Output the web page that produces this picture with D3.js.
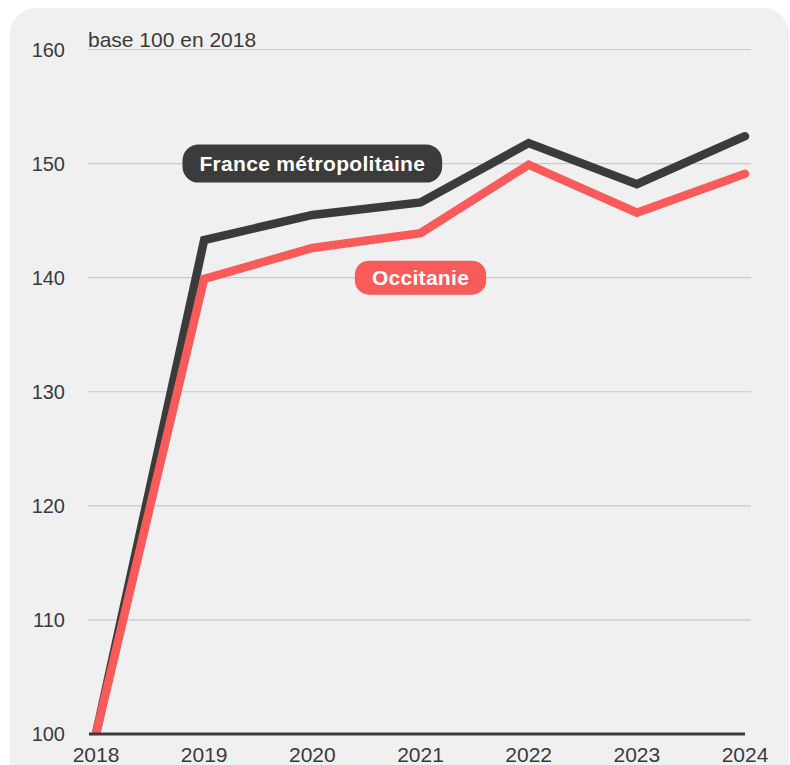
<!DOCTYPE html>
<html><head><meta charset="utf-8">
<script src="https://cdn.jsdelivr.net/npm/d3@7"></script>
<style>body{margin:0;background:#fff}svg{display:block}text{font-family:"Liberation Sans",Arial,sans-serif}</style>
</head><body>
<svg id="c" width="790" height="765"></svg>
<script>
const years = [2018, 2019, 2020, 2021, 2022, 2023, 2024];
const france = [100, 143.3, 145.5, 146.6, 151.8, 148.2, 152.4];
const occitanie = [100, 139.9, 142.6, 143.9, 149.9, 145.7, 149.1];
const yTicks = [100, 110, 120, 130, 140, 150, 160];
const seriesNames = ["France métropolitaine", "Occitanie"];
const subtitle = "base 100 en 2018";

const svg = d3.select("#c");
svg.append("rect").attr("x", 10).attr("y", 8).attr("width", 779).attr("height", 800)
  .attr("rx", 26).attr("fill", "#f0f0f0");

const x = d3.scalePoint().domain(years).range([96, 745]);
const y = d3.scaleLinear().domain([100, 160]).range([734, 49.5]);

// gridlines
const grid = svg.append("g");
grid.selectAll("line").data(yTicks.filter(t => t > 100)).join("line")
  .attr("x1", 88).attr("x2", 751)
  .attr("y1", d => y(d)).attr("y2", d => y(d))
  .attr("stroke", "#c9c9c9").attr("stroke-width", 1.2);

// y labels
svg.append("g").selectAll("text").data(yTicks).join("text")
  .attr("x", 65).attr("y", d => y(d)).attr("dy", "0.36em")
  .attr("text-anchor", "end").attr("font-size", 20).attr("fill", "#3a3a3a")
  .text(d => d);

// x labels
svg.append("g").selectAll("text").data(years).join("text")
  .attr("x", d => x(d)).attr("y", 762)
  .attr("text-anchor", "middle").attr("font-size", 21).attr("fill", "#3a3a3a")
  .text(d => d);

svg.append("text").attr("x", 88).attr("y", 47).attr("font-size", 21).attr("fill", "#3a3a3a").text(subtitle);

svg.append("clipPath").attr("id", "clip").append("rect").attr("x", 0).attr("y", 0).attr("width", 790).attr("height", y(100));

const line = d3.line().x((d, i) => x(years[i])).y(d => y(d));
const colors = ["#3b3b3b", "#f95a5a"];
[france, occitanie].forEach((s, k) => {
  svg.append("path").datum(s).attr("d", line).attr("fill", "none")
    .attr("stroke", colors[k]).attr("stroke-width", 8.5)
    .attr("stroke-linecap", "round").attr("stroke-linejoin", "miter")
    .attr("clip-path", "url(#clip)");
});

// bottom axis line
svg.append("line").attr("x1", 89).attr("x2", 745).attr("y1", y(100)).attr("y2", y(100))
  .attr("stroke", "#3b3b3b").attr("stroke-width", 3);

// labels
const labelPos = [{yr: 2020, v: 150}, {yr: 2021, v: 140}];
seriesNames.forEach((name, k) => {
  const g = svg.append("g").attr("transform", `translate(${x(labelPos[k].yr)},${y(labelPos[k].v)})`);
  const t = g.append("text").attr("text-anchor", "middle").attr("dy", "0.36em")
    .attr("font-size", 21).attr("font-weight", "bold").attr("letter-spacing", 0.3)
    .attr("fill", "#fff").text(name);
  const bb = t.node().getBBox();
  const h = k === 0 ? 38 : 34;
  g.insert("rect", "text").attr("x", bb.x - 17).attr("y", -h / 2)
    .attr("width", bb.width + 34).attr("height", h).attr("rx", h / 2 - 3)
    .attr("fill", colors[k]);
});
</script>
</body></html>
